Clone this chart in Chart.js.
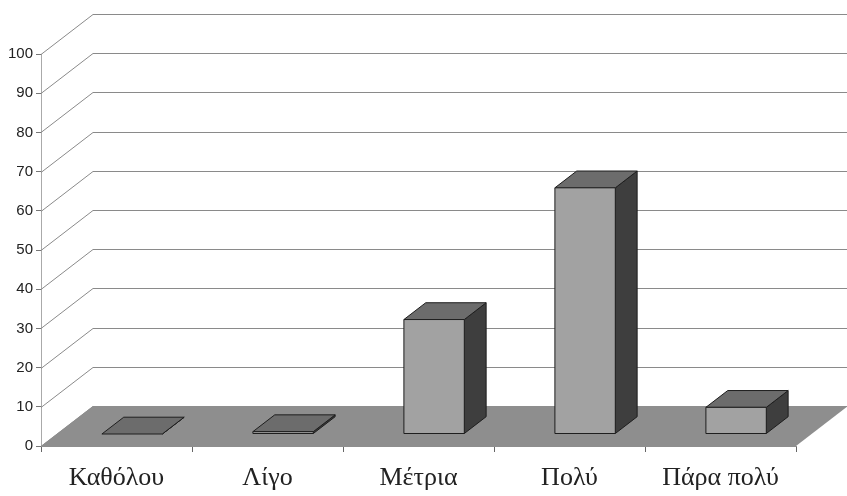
<!DOCTYPE html>
<html>
<head>
<meta charset="utf-8">
<script src="https://cdn.jsdelivr.net/npm/chart.js@4/dist/chart.umd.min.js"></script>
<style>
html,body{margin:0;padding:0;background:#fff;}
#wrap{width:847px;height:496px;position:relative;}
</style>
</head>
<body>
<div id="wrap"><canvas id="c" width="847" height="496"></canvas></div>
<script>
const categories = ['Καθόλου', 'Λίγο', 'Μέτρια', 'Πολύ', 'Πάρα πολύ'];
const values = [0, 0.6, 29.2, 62.8, 6.8];
const yTicks = [0, 10, 20, 30, 40, 50, 60, 70, 80, 90, 100];

const DEPTH_DX = 52, DEPTH_DY = -40;       // floor / wall depth
const BAR_FRONT = 0.3, BAR_BACK = 0.72;     // bar position within depth

const threeD = {
  id: 'threeD',
  beforeDatasetsDraw(chart) {
    const {ctx, chartArea: {left, right, bottom}, scales: {y}} = chart;
    ctx.save();
    ctx.strokeStyle = '#8a8a8a';
    ctx.lineWidth = 1;
    y.ticks.forEach(t => {
      const py = Math.round(y.getPixelForValue(t.value)) + 0.5;
      ctx.beginPath();
      ctx.moveTo(left, py);
      ctx.lineTo(left + DEPTH_DX, py + DEPTH_DY);
      ctx.lineTo(chart.width, py + DEPTH_DY);
      ctx.stroke();
    });
    const base = y.getPixelForValue(0);
    ctx.fillStyle = '#8e8e8e';
    ctx.beginPath();
    ctx.moveTo(left, base);
    ctx.lineTo(right, base);
    ctx.lineTo(right + DEPTH_DX, base + DEPTH_DY);
    ctx.lineTo(left + DEPTH_DX, base + DEPTH_DY);
    ctx.closePath();
    ctx.fill();
    ctx.restore();
  },
  afterDatasetsDraw(chart) {
    const {ctx} = chart;
    const meta = chart.getDatasetMeta(0);
    const ox = DEPTH_DX * BAR_FRONT, oy = DEPTH_DY * BAR_FRONT;
    const bdx = DEPTH_DX * (BAR_BACK - BAR_FRONT), bdy = DEPTH_DY * (BAR_BACK - BAR_FRONT);
    ctx.save();
    ctx.strokeStyle = '#1e1e1e';
    ctx.lineWidth = 1;
    ctx.lineJoin = 'round';
    meta.data.forEach(el => {
      const p = el.getProps(['x', 'y', 'base', 'width'], true);
      const xl = p.x - p.width / 2 + ox, xr = p.x + p.width / 2 + ox;
      const yt = p.y + oy, yb = p.base + oy;
      ctx.fillStyle = '#3e3e3e';
      ctx.beginPath();
      ctx.moveTo(xr, yt); ctx.lineTo(xr + bdx, yt + bdy);
      ctx.lineTo(xr + bdx, yb + bdy); ctx.lineTo(xr, yb); ctx.closePath();
      ctx.fill(); ctx.stroke();
      ctx.fillStyle = '#6c6c6c';
      ctx.beginPath();
      ctx.moveTo(xl, yt); ctx.lineTo(xr, yt);
      ctx.lineTo(xr + bdx, yt + bdy); ctx.lineTo(xl + bdx, yt + bdy); ctx.closePath();
      ctx.fill(); ctx.stroke();
      if (yb - yt > 0.2) {
        ctx.fillStyle = '#a2a2a2';
        ctx.beginPath();
        ctx.rect(xl, yt, xr - xl, yb - yt);
        ctx.fill(); ctx.stroke();
      }
    });
    ctx.restore();
  }
};

new Chart(document.getElementById('c'), {
  type: 'bar',
  data: {
    labels: categories,
    datasets: [{
      data: values,
      backgroundColor: 'rgba(0,0,0,0)',
      borderWidth: 0,
      barPercentage: 0.4,
      categoryPercentage: 1
    }]
  },
  options: {
    responsive: false,
    animation: false,
    events: [],
    layout: {padding: {top: 54, right: 51, left: 0, bottom: 0}},
    plugins: {legend: {display: false}, tooltip: {enabled: false}},
    scales: {
      x: {
        offset: true,
        grid: {offset: true, drawOnChartArea: false, drawTicks: true, tickLength: 6, color: '#666'},
        border: {display: true, color: '#8e8e8e'},
        ticks: {color: '#222', font: {family: '"Liberation Serif", "Times New Roman", serif', size: 26}, padding: 11, maxRotation: 0},
        afterFit(s) { s.height = 50; }
      },
      y: {
        min: 0, max: 100,
        afterBuildTicks(s) { s.ticks = yTicks.map(v => ({value: v})); },
        grid: {drawOnChartArea: false, drawTicks: true, tickLength: 5, color: '#777'},
        border: {display: true, color: '#aaa'},
        ticks: {color: '#222', font: {family: '"Liberation Sans", Arial, sans-serif', size: 15}, padding: 3},
        afterFit(s) { s.width = 41; }
      }
    }
  },
  plugins: [threeD]
});
</script>
</body>
</html>
